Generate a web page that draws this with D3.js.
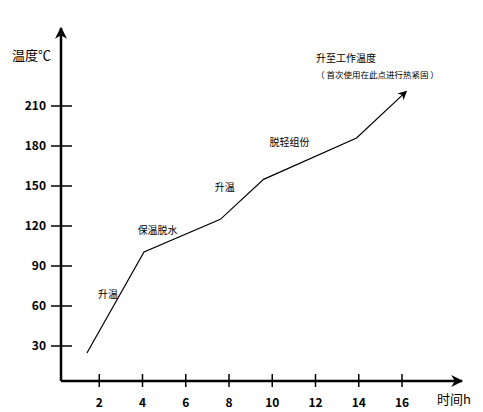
<!DOCTYPE html>
<html><head><meta charset="utf-8">
<script src="https://cdn.jsdelivr.net/npm/d3@7"></script>
<style>body{margin:0;background:#fff}text{font-family:"Noto Sans CJK SC",Arial,sans-serif}</style>
</head><body><div id="chart"></div>
<script>
var xTicks = [2, 4, 6, 8, 10, 12, 14, 16];
var yTicks = [30, 60, 90, 120, 150, 180, 210];
var hours = [1.43, 4.07, 7.6, 9.6, 13.9, 16.2];
var temps = [24.7, 100.5, 125, 155, 186, 221];
var stageNames = ["升温", "保温脱水", "升温", "脱轻组份"];
var stageX = [2.4, 4.7, 7.8, 10.8];
var stageY = [66, 114, 146, 180];

var W = 483, H = 412;
var svg = d3.select("#chart").append("svg").attr("width", W).attr("height", H);
var x = d3.scaleLinear().domain([0, 16]).range([56, 402]);
var y = d3.scaleLinear().domain([0, 210]).range([386, 106]);
var ox = 61, oy = 381;

var defs = svg.append("defs");
function marker(id, w, h) {
  defs.append("marker").attr("id", id).attr("viewBox", "0 0 10 10")
    .attr("refX", 9).attr("refY", 5).attr("markerWidth", w).attr("markerHeight", h)
    .attr("markerUnits", "userSpaceOnUse").attr("orient", "auto")
    .append("path").attr("d", "M0,0L10,5L0,10L3,5Z").attr("fill", "#000");
}
marker("big", 16, 12);
marker("small", 11, 9);

// axes
svg.append("line").attr("x1", ox).attr("y1", oy).attr("x2", ox).attr("y2", 28)
  .attr("stroke", "#000").attr("stroke-width", 2.5).attr("marker-end", "url(#big)");
svg.append("line").attr("x1", ox).attr("y1", oy).attr("x2", 462).attr("y2", oy)
  .attr("stroke", "#000").attr("stroke-width", 2.5).attr("marker-end", "url(#big)");

svg.selectAll(".xt").data(xTicks).enter().append("line")
  .attr("x1", d => x(d)).attr("x2", d => x(d)).attr("y1", oy - 7).attr("y2", oy + 6)
  .attr("stroke", "#000").attr("stroke-width", 1.5);
svg.selectAll(".xl").data(xTicks).enter().append("text")
  .attr("x", d => x(d)).attr("y", 407).attr("text-anchor", "middle")
  .attr("font-family", "Arial").attr("font-weight", "bold").attr("font-size", 12).text(d => d);

svg.selectAll(".yt").data(yTicks).enter().append("line")
  .attr("x1", ox - 10).attr("x2", ox + 11).attr("y1", d => y(d)).attr("y2", d => y(d))
  .attr("stroke", "#000").attr("stroke-width", 1.5);
svg.selectAll(".yl").data(yTicks).enter().append("text")
  .attr("x", 46).attr("y", d => y(d) + 4).attr("text-anchor", "end")
  .attr("font-family", "Arial").attr("font-weight", "bold").attr("font-size", 12).text(d => d);

svg.append("text").attr("x", 12).attr("y", 60).attr("font-size", 13).text("温度℃");
svg.append("text").attr("x", 437).attr("y", 404).attr("font-size", 13).text("时间h");

// curve
var pts = hours.map((h, i) => [x(h), y(temps[i])]);
svg.append("path").attr("d", d3.line()(pts)).attr("fill", "none")
  .attr("stroke", "#000").attr("stroke-width", 1.2).attr("marker-end", "url(#small)");

svg.selectAll(".st").data(stageNames).enter().append("text")
  .attr("x", (d, i) => x(stageX[i])).attr("y", (d, i) => y(stageY[i]))
  .attr("text-anchor", "middle").attr("font-size", 10).text(d => d);

svg.append("text").attr("x", 316).attr("y", 62).attr("font-size", 10).text("升至工作温度");
svg.append("text").attr("x", 316).attr("y", 78).attr("font-size", 8.5).text("（ 首次使用在此点进行热紧固 ）");
</script></body></html>
